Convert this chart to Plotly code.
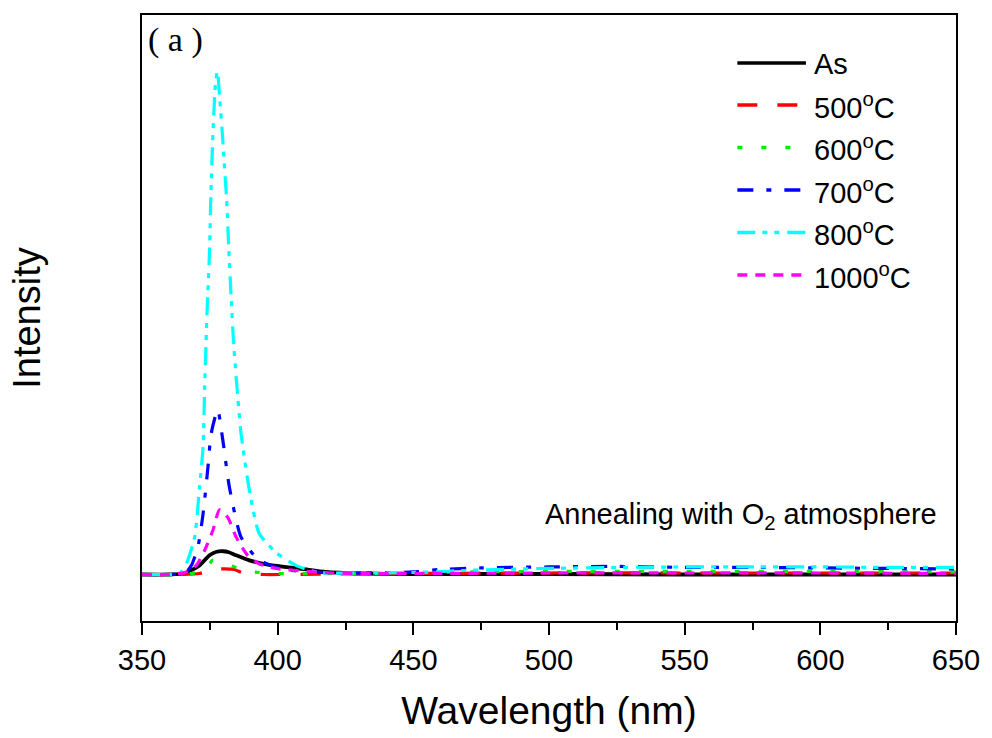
import plotly.graph_objects as go

# ---------------- data ----------------
x_as = [350, 360, 365.8, 367.6, 371.2, 374.9, 377.5, 379.8, 382.0, 384.7, 389.6, 396.9, 409.0, 417.7, 430, 450, 500, 550, 600, 650]
y_as = [0, 0, 0.2, 0.7, 1.8, 3.8, 4.5, 4.6, 4.4, 3.8, 2.8, 1.9, 1.1, 0.5, 0.2, 0.1, 0.1, 0.0, 0.0, 0.0]

x_500 = [350, 365, 371.2, 374.9, 378.6, 384.0, 387.7, 395, 420, 450, 500, 550, 600, 650]
y_500 = [0, 0, 0.2, 0.8, 1.1, 1.0, 0.2, 0.0, 0.1, 0.2, 0.3, 0.3, 0.3, 0.3]

x_600 = [350, 365, 373.1, 376.0, 378.6, 384.7, 389.6, 400, 430, 470, 500, 550, 600, 650]
y_600 = [0, 0, 0.8, 2.8, 2.4, 1.4, 0.6, 0.2, 0.2, 0.5, 0.6, 0.6, 0.6, 0.5]

x_700 = [350, 360, 365.8, 368.2, 370.6, 372.5, 374.3, 375.5, 377.9, 379.7, 382.2, 386.5, 392.0, 395.7, 402.4, 420, 450, 460, 475, 500, 525, 550, 575, 600, 625, 650]
y_700 = [0, 0, 0.2, 1.8, 5.4, 12.0, 21.2, 27.9, 32.6, 26.9, 17.3, 7.4, 3.4, 2.2, 1.0, 0.3, 0.5, 1.0, 1.3, 1.5, 1.6, 1.4, 1.4, 1.3, 1.2, 1.1]

x_800 = [350, 360, 363.9, 366.4, 369.4, 371.2, 372.5, 373.1, 373.9, 374.9, 375.5, 376.4, 377.1, 377.8,
         378.6, 379.6, 380.4, 381.2, 382.0, 382.9, 383.7, 384.7, 386.5, 389.6, 393.2, 399.3, 406.7, 415.2,
         430, 450, 475, 500, 525, 550, 575, 600, 625, 650]
y_800 = [0, 0, 0.2, 2.2, 7.4, 17.3, 25.2, 37.1, 50.9, 64.2, 77.4, 90.5, 97.2, 99.6,
         94.5, 87.3, 80.7, 74.1, 64.2, 54.3, 46.3, 39.1, 27.9, 16.6, 8.1, 4.4, 1.8, 0.4,
         0.3, 0.4, 0.9, 1.2, 1.4, 1.5, 1.5, 1.5, 1.4, 1.4]

x_1000 = [350, 360, 365.8, 370.0, 373.1, 376.1, 378.6, 381.6, 384.7, 388.9, 393.2, 399.3, 420, 450, 500, 550, 600, 650]
y_1000 = [0, 0, 0.4, 1.8, 4.8, 8.7, 12.8, 11.3, 7.4, 3.8, 2.1, 1.2, 0.3, 0.2, 0.3, 0.3, 0.3, 0.2]

series_names = ["As", "500<sup>o</sup>C", "600<sup>o</sup>C", "700<sup>o</sup>C", "800<sup>o</sup>C", "1000<sup>o</sup>C"]
series_x = [x_as, x_500, x_600, x_700, x_800, x_1000]
series_y = [y_as, y_500, y_600, y_700, y_800, y_1000]

x_ticks = [350, 400, 450, 500, 550, 600, 650]

# ---------------- styles ----------------
colors = ["#000000", "#ff0000", "#00ee00", "#0000ff", "#00ffff", "#ff00ff"]
dashes = ["solid", "20px,20px", "5px,19px", "16px,13px,5px,13px", "18px,7px,5px,7px,5px,8px", "10px,8px"]
widths = [3.8, 3.2, 3.2, 3.2, 3.2, 3.2]
FONT = "Arial, Liberation Sans, sans-serif"

fig = go.Figure()
for name, xs, ys, c, d, w in zip(series_names, series_x, series_y, colors, dashes, widths):
    fig.add_trace(go.Scatter(x=xs, y=ys, mode="lines", name=name, showlegend=False,
                             line=dict(color=c, width=w, dash=d, shape="spline", smoothing=0.6)))

# ---------------- manual legend (long line samples like the original) ----------------
L, T, W, H = 142, 15, 819, 606
def px(x):
    return (x - L) / W
def py(y):
    return (T + H - y) / H

row_y = [63, 105, 147.5, 190, 232.5, 275]
for name, c, d, yy in zip(series_names, colors, dashes, row_y):
    fig.add_shape(type="line", xref="paper", yref="paper",
                  x0=px(741), x1=px(810), y0=py(yy), y1=py(yy),
                  line=dict(color=c, width=3.5, dash=d))
    fig.add_annotation(xref="paper", yref="paper", x=px(816), y=py(yy + 1), text=name,
                       showarrow=False, xanchor="left", yanchor="middle",
                       font=dict(family=FONT, size=29, color="black"))

fig.add_annotation(xref="paper", yref="paper", x=px(944), y=py(516),
                   text="Annealing with O<sub>2</sub> atmosphere", showarrow=False,
                   xanchor="right", yanchor="middle",
                   font=dict(family=FONT, size=29, color="black"))

fig.add_annotation(xref="paper", yref="paper", x=px(146), y=py(40),
                   text="( a )", showarrow=False, xanchor="left", yanchor="middle",
                   font=dict(family="Liberation Serif, serif", size=34, color="black"))

fig.update_layout(
    width=992, height=738,
    margin=dict(l=L, r=992 - L - W, t=T, b=738 - T - H),
    paper_bgcolor="white", plot_bgcolor="white",
    showlegend=False,
    font=dict(family=FONT, color="black"),
)

fig.update_xaxes(
    range=[350, 650], tickvals=x_ticks, ticktext=[str(v) for v in x_ticks],
    ticks="outside", ticklen=12, tickwidth=2, tickcolor="black",
    minor=dict(dtick=25, tick0=350, ticks="outside", ticklen=7, tickwidth=2, tickcolor="black"),
    showline=True, linewidth=2, linecolor="black", mirror=True,
    showgrid=False, zeroline=False,
    tickfont=dict(family=FONT, size=29, color="black"),
    title=dict(text="Wavelength (nm)", font=dict(family=FONT, size=39, color="black"), standoff=22),
)
fig.update_yaxes(
    range=[-9.2, 110.7], showticklabels=False, ticks="",
    showline=True, linewidth=2, linecolor="black", mirror=True,
    showgrid=False, zeroline=False,
    title=dict(text="Intensity", font=dict(family=FONT, size=38, color="black"), standoff=88),
)

fig.write_html("out.html")
